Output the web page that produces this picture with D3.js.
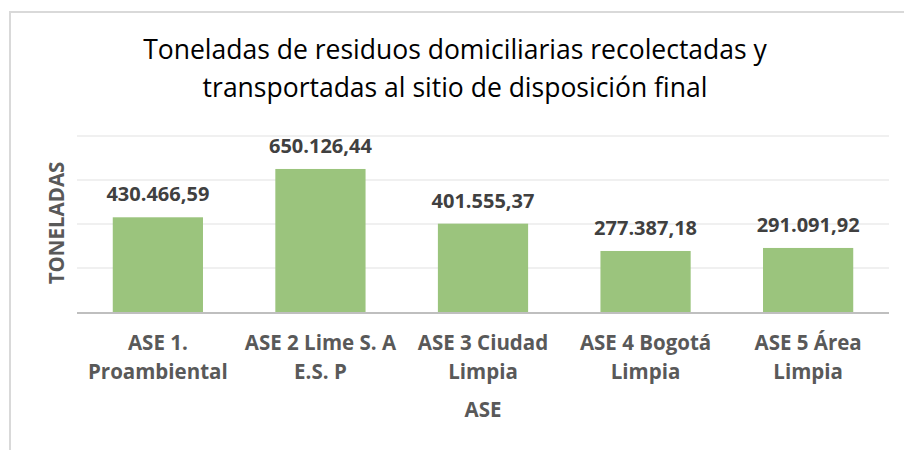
<!DOCTYPE html>
<html>
<head>
<meta charset="utf-8">
<script src="https://cdn.jsdelivr.net/npm/d3@7"></script>
<style>
  body { margin: 0; background: #fff; }
  text { font-family: "Open Sans", "Liberation Sans", sans-serif; }
</style>
</head>
<body>
<div id="viz"></div>
<script>
var categories = [
  ["ASE 1.", "Proambiental"],
  ["ASE 2 Lime S. A", "E.S. P"],
  ["ASE 3 Ciudad", "Limpia"],
  ["ASE 4 Bogotá", "Limpia"],
  ["ASE 5 Área", "Limpia"]
];
var values = [430466.59, 650126.44, 401555.37, 277387.18, 291091.92];
var labels = ["430.466,59", "650.126,44", "401.555,37", "277.387,18", "291.091,92"];
var gridTicks = [0, 200000, 400000, 600000, 800000];
var titleLines = ["Toneladas de residuos domiciliarias recolectadas y",
                  "transportadas al sitio de disposición final"];

var W = 904, H = 450;
var pLeft = 77, pRight = 889, pTop = 136, pBottom = 312;

var svg = d3.select("#viz").append("svg")
    .attr("width", W)
    .attr("height", H);

// chart frame
svg.append("path")
    .attr("d", "M10," + H + "V12H" + W)
    .attr("fill", "none")
    .attr("stroke", "#d9d9d9")
    .attr("stroke-width", 2);

var x = d3.scaleBand()
    .domain(d3.range(categories.length))
    .range([pLeft, pRight])
    .paddingInner(0.445)
    .paddingOuter(0.22);

var y = d3.scaleLinear()
    .domain([0, 800000])
    .range([pBottom, pTop]);

// gridlines
svg.append("g")
    .selectAll("line")
    .data(gridTicks.slice(1))
    .join("line")
    .attr("x1", pLeft)
    .attr("x2", pRight)
    .attr("y1", function(d) { return y(d); })
    .attr("y2", function(d) { return y(d); })
    .attr("stroke", "#ebebeb")
    .attr("stroke-width", 1.3);

// bars
svg.append("g")
    .selectAll("rect")
    .data(values)
    .join("rect")
    .attr("x", function(d, i) { return x(i); })
    .attr("y", function(d) { return y(d); })
    .attr("width", x.bandwidth())
    .attr("height", function(d) { return y(0) - y(d); })
    .attr("fill", "#9bc47d");

// baseline
svg.append("line")
    .attr("x1", pLeft)
    .attr("x2", pRight)
    .attr("y1", y(0) + 1)
    .attr("y2", y(0) + 1)
    .attr("stroke", "#bfbfbf")
    .attr("stroke-width", 2);

// value labels
svg.append("g")
    .selectAll("text")
    .data(values)
    .join("text")
    .attr("x", function(d, i) { return x(i) + x.bandwidth() / 2; })
    .attr("y", function(d) { return y(d) - 16; })
    .attr("text-anchor", "middle")
    .attr("font-size", 20)
    .attr("font-weight", "bold")
    .attr("fill", "#404040")
    .text(function(d, i) { return labels[i]; });

// category labels
var cat = svg.append("g")
    .selectAll("text")
    .data(categories)
    .join("text")
    .attr("text-anchor", "middle")
    .attr("font-size", 20.5)
    .attr("font-weight", "bold")
    .attr("fill", "#595959");

cat.selectAll("tspan")
    .data(function(d, i) { return d.map(function(s) { return { s: s, i: i }; }); })
    .join("tspan")
    .attr("x", function(d) { return x(d.i) + x.bandwidth() / 2; })
    .attr("y", function(d, j) { return 350 + j * 29; })
    .text(function(d) { return d.s; });

// axis titles
svg.append("text")
    .attr("x", (pLeft + pRight) / 2)
    .attr("y", 417)
    .attr("text-anchor", "middle")
    .attr("font-size", 20.5)
    .attr("font-weight", "bold")
    .attr("fill", "#595959")
    .text("ASE");

svg.append("text")
    .attr("transform", "translate(64,223)rotate(-90)")
    .attr("text-anchor", "middle")
    .attr("font-size", 20.5)
    .attr("font-weight", "bold")
    .attr("fill", "#595959")
    .text("TONELADAS");

// title
svg.append("g")
    .selectAll("text")
    .data(titleLines)
    .join("text")
    .attr("x", 455)
    .attr("y", function(d, i) { return 59 + i * 38; })
    .attr("text-anchor", "middle")
    .attr("font-size", 26.5)
    .attr("fill", "#000")
    .text(function(d) { return d; });
</script>
</body>
</html>
